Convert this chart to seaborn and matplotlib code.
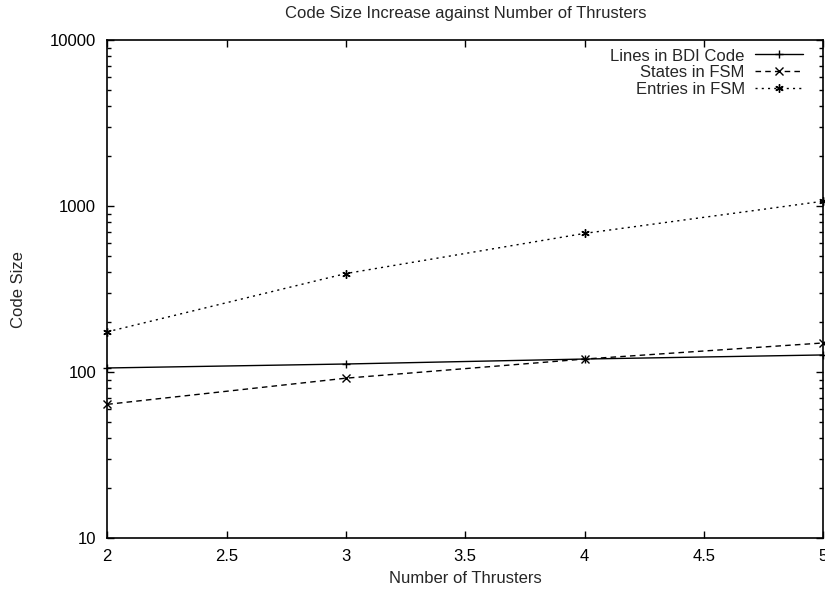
import numpy as np
import pandas as pd
import matplotlib
matplotlib.use("Agg")
import matplotlib.pyplot as plt
import seaborn as sns
from matplotlib.ticker import LogLocator, FixedLocator

# Data
thrusters = [2, 3, 4, 5]
bdi_lines = [106, 112, 120, 127]
fsm_states = [64, 92, 120, 150]
fsm_entries = [175, 393, 686, 1072]

series_names = ["Lines in BDI Code", "States in FSM", "Entries in FSM"]
x_ticks = [2, 2.5, 3, 3.5, 4, 4.5, 5]
y_ticks = [10, 100, 1000, 10000]

df = pd.DataFrame({
    "thrusters": thrusters * 3,
    "size": bdi_lines + fsm_states + fsm_entries,
    "series": [series_names[0]] * 4 + [series_names[1]] * 4 + [series_names[2]] * 4,
})

sns.set_style("ticks")
plt.rcParams["font.family"] = ["Liberation Sans", "DejaVu Sans"]

fig = plt.figure(figsize=(8.25, 5.92), dpi=100)
ax = fig.add_axes([0.13, 0.091, 0.868, 0.841])

styles = {
    series_names[0]: dict(marker="+", dashes=None),
    series_names[1]: dict(marker="x", dashes=(4, 3)),
    series_names[2]: dict(marker=(6, 2, 0), dashes=(1.5, 3)),
}

for name in series_names:
    sub = df[df["series"] == name]
    st = styles[name]
    line_kw = dict(color="black", lw=1.0, marker=st["marker"], markersize=6,
                   markeredgewidth=1.0, markeredgecolor="black", label=name)
    if st["dashes"] is not None:
        line_kw["dashes"] = st["dashes"]
    sns.lineplot(data=sub, x="thrusters", y="size", ax=ax, clip_on=False, **line_kw)

ax.set_yscale("log")
ax.set_xlim(2, 5)
ax.set_ylim(10, 10000)

ax.xaxis.set_major_locator(FixedLocator(x_ticks))
ax.set_xticklabels([f"{v:g}" for v in x_ticks])
ax.yaxis.set_major_locator(FixedLocator(y_ticks))
ax.set_yticklabels([str(v) for v in y_ticks])
ax.yaxis.set_minor_locator(LogLocator(base=10, subs=np.arange(2, 10)))
ax.yaxis.set_minor_formatter(plt.NullFormatter())

ax.tick_params(which="both", direction="in", top=True, right=True, labelsize=12, colors="black")
ax.tick_params(which="major", length=5, width=1)
ax.tick_params(which="minor", length=3, width=1)
ax.tick_params(axis="x", pad=8)
ax.tick_params(axis="y", pad=8)
for sp in ax.spines.values():
    sp.set_visible(True)
    sp.set_linewidth(1.2)
    sp.set_color("black")

ax.set_xlabel("Number of Thrusters", fontsize=12, labelpad=5)
ax.set_ylabel("Code Size", fontsize=12, labelpad=17)
ax.set_title("Code Size Increase against Number of Thrusters", fontsize=12, pad=16)

leg = ax.legend(loc="upper right", bbox_to_anchor=(1 - 12 / 716, 1), frameon=False,
                markerfirst=False, fontsize=12, handlelength=2.9, borderaxespad=0.1,
                labelspacing=0.1, handletextpad=0.6)
for vp in leg._legend_box.get_children()[1].get_children()[0].get_children():
    vp.align = "right"

fig.savefig("out.png", dpi=100)
